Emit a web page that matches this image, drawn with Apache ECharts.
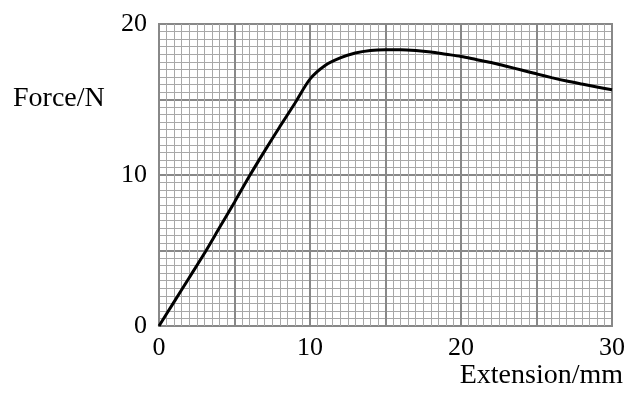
<!DOCTYPE html>
<html>
<head>
<meta charset="utf-8">
<script src="https://cdn.jsdelivr.net/npm/echarts@6/dist/echarts.min.js"></script>
<style>
html,body{margin:0;padding:0;background:#fff;}
#c{width:630px;height:394px;}
</style>
</head>
<body>
<div id="c"></div>
<script>
var extension = [0,1,2,3,4,5,6,7,8,9,10,11,12,13,14,15,16,17,18,19,20,21,22,23,24,25,26,27,28,29,30];
var force = [0,1.6,3.2,4.8,6.5,8.2,9.95,11.6,13.2,14.75,16.35,17.25,17.75,18.08,18.25,18.3,18.3,18.25,18.15,18.0,17.85,17.65,17.45,17.2,16.95,16.7,16.45,16.22,16.02,15.83,15.65];
var xTickLabels = ['0','10','20','30'];
var yTickLabels = ['0','10','20'];
var xName = 'Extension/mm';
var yName = 'Force/N';

var chart = echarts.init(document.getElementById('c'), null, {renderer:'canvas'});
var font = "'Liberation Serif', 'Times New Roman', serif";
var points = extension.map(function(x,i){return [x, force[i]];});
chart.setOption({
  animation:false,
  backgroundColor:'#fff',
  grid:{left:159,top:24,right:18,bottom:68,show:true,borderColor:'#888',borderWidth:2,backgroundColor:'transparent'},
  xAxis:{type:'value',min:0,max:30,interval:5,
    axisLine:{show:false},axisTick:{show:false},
    axisLabel:{fontFamily:font,fontSize:26,color:'#000',margin:9,
      formatter:function(v){return xTickLabels.indexOf(String(v))>=0?String(v):'';}},
    splitLine:{show:true,lineStyle:{color:'#888',width:2}},
    minorTick:{show:false,splitNumber:10},
    minorSplitLine:{show:true,lineStyle:{color:'#a8a8a8',width:1}}
  },
  yAxis:{type:'value',min:0,max:20,interval:5,
    axisLine:{show:false},axisTick:{show:false},
    axisLabel:{fontFamily:font,fontSize:26,color:'#000',margin:12,
      formatter:function(v){return yTickLabels.indexOf(String(v))>=0?String(v):'';}},
    splitLine:{show:true,lineStyle:{color:'#888',width:2}},
    minorTick:{show:false,splitNumber:10},
    minorSplitLine:{show:true,lineStyle:{color:'#a8a8a8',width:1}}
  },
  graphic:[
    {type:'text',left:13,top:85,style:{text:yName,font:"28px 'Liberation Serif', serif",fill:'#000'}},
    {type:'text',right:7,top:362,style:{text:xName,font:"28px 'Liberation Serif', serif",fill:'#000'}}
  ],
  series:[{type:'line',data:points,smooth:0.3,showSymbol:false,
    lineStyle:{color:'#000',width:3},z:5}]
});
</script>
</body>
</html>
